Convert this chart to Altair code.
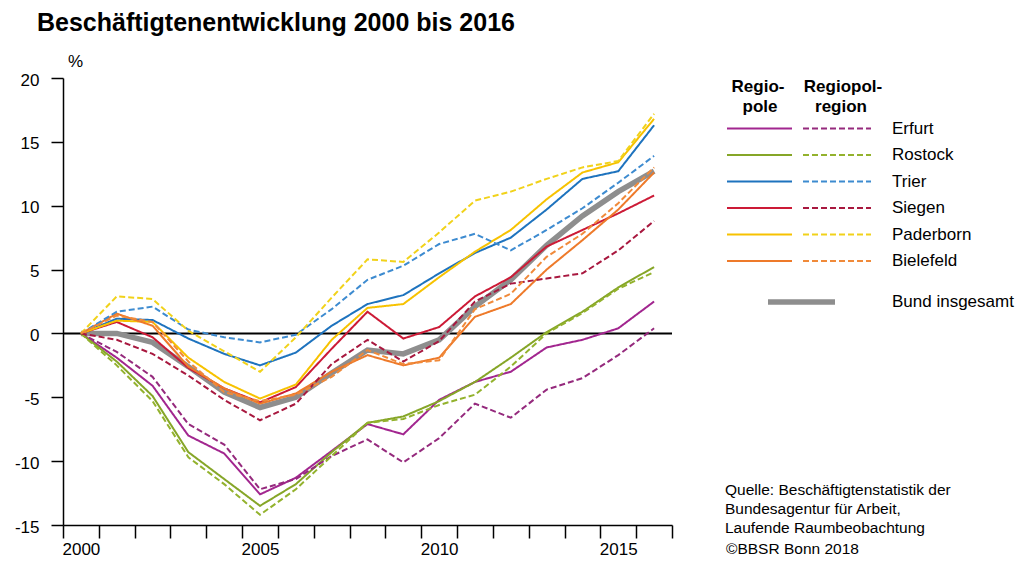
import altair as alt
import pandas as pd

years = list(range(2000, 2017))
cities = ["Erfurt", "Rostock", "Trier", "Siegen", "Paderborn", "Bielefeld"]

# Regiopole (solid lines)
erfurt_pole = [0, -1.9, -4.1, -8.0, -9.4, -12.6, -11.3, -9.2, -7.1, -7.9, -5.2, -3.8, -3.0, -1.1, -0.5, 0.4, 2.5]
rostock_pole = [0, -2.2, -4.9, -9.3, -11.4, -13.5, -11.8, -9.3, -7.0, -6.5, -5.3, -3.8, -1.9, 0.1, 1.7, 3.6, 5.2]
trier_pole = [0, 1.15, 1.05, -0.4, -1.6, -2.5, -1.5, 0.6, 2.3, 3.0, 4.7, 6.3, 7.5, 9.7, 12.1, 12.7, 16.3]
siegen_pole = [0, 0.9, -0.3, -2.7, -4.3, -5.4, -4.2, -1.2, 1.7, -0.4, 0.5, 2.9, 4.4, 6.8, 8.1, 9.4, 10.8]
paderborn_pole = [0, 1.0, 0.9, -1.9, -3.8, -5.1, -4.0, -0.5, 2.0, 2.3, 4.4, 6.4, 8.1, 10.5, 12.6, 13.4, 16.8]
bielefeld_pole = [0, 1.55, 0.6, -2.6, -4.3, -5.5, -4.7, -3.0, -1.7, -2.5, -1.9, 1.3, 2.3, 5.0, 7.3, 9.7, 12.6]

# Regiopolregionen (dashed lines)
erfurt_region = [0, -1.45, -3.4, -7.1, -8.7, -12.2, -11.4, -9.6, -8.3, -10.1, -8.2, -5.5, -6.6, -4.4, -3.5, -1.7, 0.4]
rostock_region = [0, -2.5, -5.3, -9.7, -11.8, -14.2, -12.2, -9.6, -7.0, -6.7, -5.6, -4.8, -2.6, 0.0, 1.6, 3.5, 4.8]
trier_region = [0, 1.7, 2.1, 0.3, -0.3, -0.7, -0.1, 1.9, 4.2, 5.3, 7.0, 7.8, 6.5, 8.1, 9.8, 11.8, 13.9]
siegen_region = [0, -0.5, -1.6, -3.3, -5.2, -6.8, -5.5, -2.4, -0.5, -2.2, -0.6, 2.5, 3.9, 4.3, 4.7, 6.5, 8.8]
paderborn_region = [0, 2.9, 2.7, 0.2, -1.4, -3.0, -0.3, 2.8, 5.8, 5.6, 7.9, 10.4, 11.1, 12.1, 13.0, 13.5, 17.2]
bielefeld_region = [0, 1.4, 0.9, -2.2, -4.6, -5.3, -4.8, -3.4, -1.3, -2.4, -2.1, 1.9, 3.1, 6.0, 7.8, 10.2, 13.0]

# Bund insgesamt
bund = [0, 0.0, -0.7, -2.6, -4.6, -5.8, -5.0, -3.1, -1.3, -1.6, -0.5, 2.1, 4.2, 6.9, 9.2, 11.1, 12.7]

solid_colors = ["#a2268f", "#86a628", "#1e73be", "#cc1a36", "#f7c200", "#ee7a2a"]
dashed_colors = ["#952a7d", "#93b22d", "#3d8bd0", "#a8183f", "#f1d21a", "#f08a3a"]

pole_series = [erfurt_pole, rostock_pole, trier_pole, siegen_pole, paderborn_pole, bielefeld_pole]
region_series = [erfurt_region, rostock_region, trier_region, siegen_region, paderborn_region, bielefeld_region]

rows = []
for c, vals in zip(cities, pole_series):
    for y, v in zip(years, vals):
        rows.append({"year": y, "value": v, "city": c, "kind": "pole", "series": c + " pole"})
for c, vals in zip(cities, region_series):
    for y, v in zip(years, vals):
        rows.append({"year": y, "value": v, "city": c, "kind": "region", "series": c + " region"})
df = pd.DataFrame(rows)
bund_df = pd.DataFrame({"year": years, "value": bund})

series_domain = [c + " pole" for c in cities] + [c + " region" for c in cities]
series_range = solid_colors + dashed_colors

FONT = "Liberation Sans"

x_vals = [1999.5 + 0.5 * i for i in range(35)]
x_axis = alt.Axis(
    values=x_vals,
    labelExpr="datum.value % 5 == 0 ? toString(datum.value) : ''",
    tickOpacity={"condition": {"test": "datum.value % 1 == 0", "value": 0}, "value": 1},
    tickSize=13, tickColor="black", tickWidth=1.5,
    domainColor="black", domainWidth=1.5,
    labelFontSize=17, labelFont=FONT, labelColor="black", labelPadding=3,
    labelOverlap=False, labelFlush=False, grid=False, title=None,
)
y_axis = alt.Axis(
    values=[-15, -10, -5, 0, 5, 10, 15, 20],
    labelExpr="toString(datum.value)",
    tickSize=12, tickColor="black", tickWidth=1.5,
    domainColor="black", domainWidth=1.5,
    labelFontSize=17, labelFont=FONT, labelColor="black", labelPadding=12,
    labelOffset=2, grid=False, title=None,
)

x_enc = alt.X("year:Q", scale=alt.Scale(domain=[1999.5, 2016.5], nice=False, zero=False), axis=x_axis)
y_enc = alt.Y("value:Q", scale=alt.Scale(domain=[-15, 20], nice=False, zero=False), axis=y_axis)

zero_line = alt.Chart(pd.DataFrame({"a": [0]})).mark_rule(color="black", strokeWidth=2).encode(
    y=alt.datum(0)
)

bund_line = alt.Chart(bund_df).mark_line(color="#8e8e8e", strokeWidth=5.5).encode(
    x=x_enc, y=y_enc, order="year:Q"
)

lines = alt.Chart(df).mark_line(strokeWidth=2).encode(
    x=x_enc,
    y=y_enc,
    color=alt.Color("series:N", scale=alt.Scale(domain=series_domain, range=series_range), legend=None),
    strokeDash=alt.StrokeDash("kind:N", scale=alt.Scale(domain=["pole", "region"], range=[[1, 0], [6, 3]]), legend=None),
    detail="series:N",
    order="year:Q",
)

# custom legend
legend_df = pd.DataFrame({"city": cities, "idx": list(range(len(cities)))})
leg_base = alt.Chart(legend_df).transform_calculate(ly="50.5 + 26.5 * datum.idx")
leg_y = alt.Y("ly:Q", scale=None, axis=None)

leg_solid = leg_base.transform_calculate(series="datum.city + ' pole'").mark_rule(strokeWidth=2).encode(
    x=alt.value(664), x2=alt.value(729), y=leg_y, color=alt.Color("series:N", legend=None)
)
leg_dash = leg_base.transform_calculate(series="datum.city + ' region'").mark_rule(strokeWidth=2, strokeDash=[6, 3]).encode(
    x=alt.value(740), x2=alt.value(808), y=leg_y, color=alt.Color("series:N", legend=None)
)
leg_text = leg_base.mark_text(align="left", baseline="middle", font=FONT, fontSize=17, color="black").encode(
    x=alt.value(829), y=leg_y, text="city:N"
)
leg_bund = alt.Chart(pd.DataFrame({"a": [0]})).mark_rule(color="#8e8e8e", strokeWidth=5.5).encode(
    x=alt.value(705), x2=alt.value(772), y=alt.value(224)
)


def label(t, x, y, size=17, bold=False, align="left", baseline="alphabetic"):
    return alt.Chart(pd.DataFrame({"t": [t]})).mark_text(
        align=align, baseline=baseline, font=FONT, fontSize=size,
        fontWeight="bold" if bold else "normal", color="black",
    ).encode(text="t:N", x=alt.value(x), y=alt.value(y))


texts = [
    label("Beschäftigtenentwicklung 2000 bis 2016", -26, -47, size=25, bold=True),
    label("%", 5, -11, size=17),
    label("Regio-", 695, 14, size=17, bold=True, align="center"),
    label("pole", 697, 34, size=17, bold=True, align="center"),
    label("Regiopol-", 780, 14, size=17, bold=True, align="center"),
    label("region", 778, 34, size=17, bold=True, align="center"),
    label("Bund insgesamt", 829, 224, size=17, baseline="middle"),
    label("Quelle: Beschäftigtenstatistik der", 662, 417, size=15.5),
    label("Bundesagentur für Arbeit,", 662, 436, size=15.5),
    label("Laufende Raumbeobachtung", 662, 455, size=15.5),
    label("©BBSR Bonn 2018", 663, 476, size=15.5),
]

chart = alt.layer(
    zero_line, bund_line, lines, leg_solid, leg_dash, leg_text, leg_bund, *texts
).properties(
    width=609,
    height=447,
    autosize=alt.AutoSizeParams(type="none"),
    padding={"left": 55, "top": 70, "right": 349, "bottom": 34},
    background="white",
).configure_view(stroke=None)

chart.save("out.html", embed_options={"renderer": "svg", "actions": False})
